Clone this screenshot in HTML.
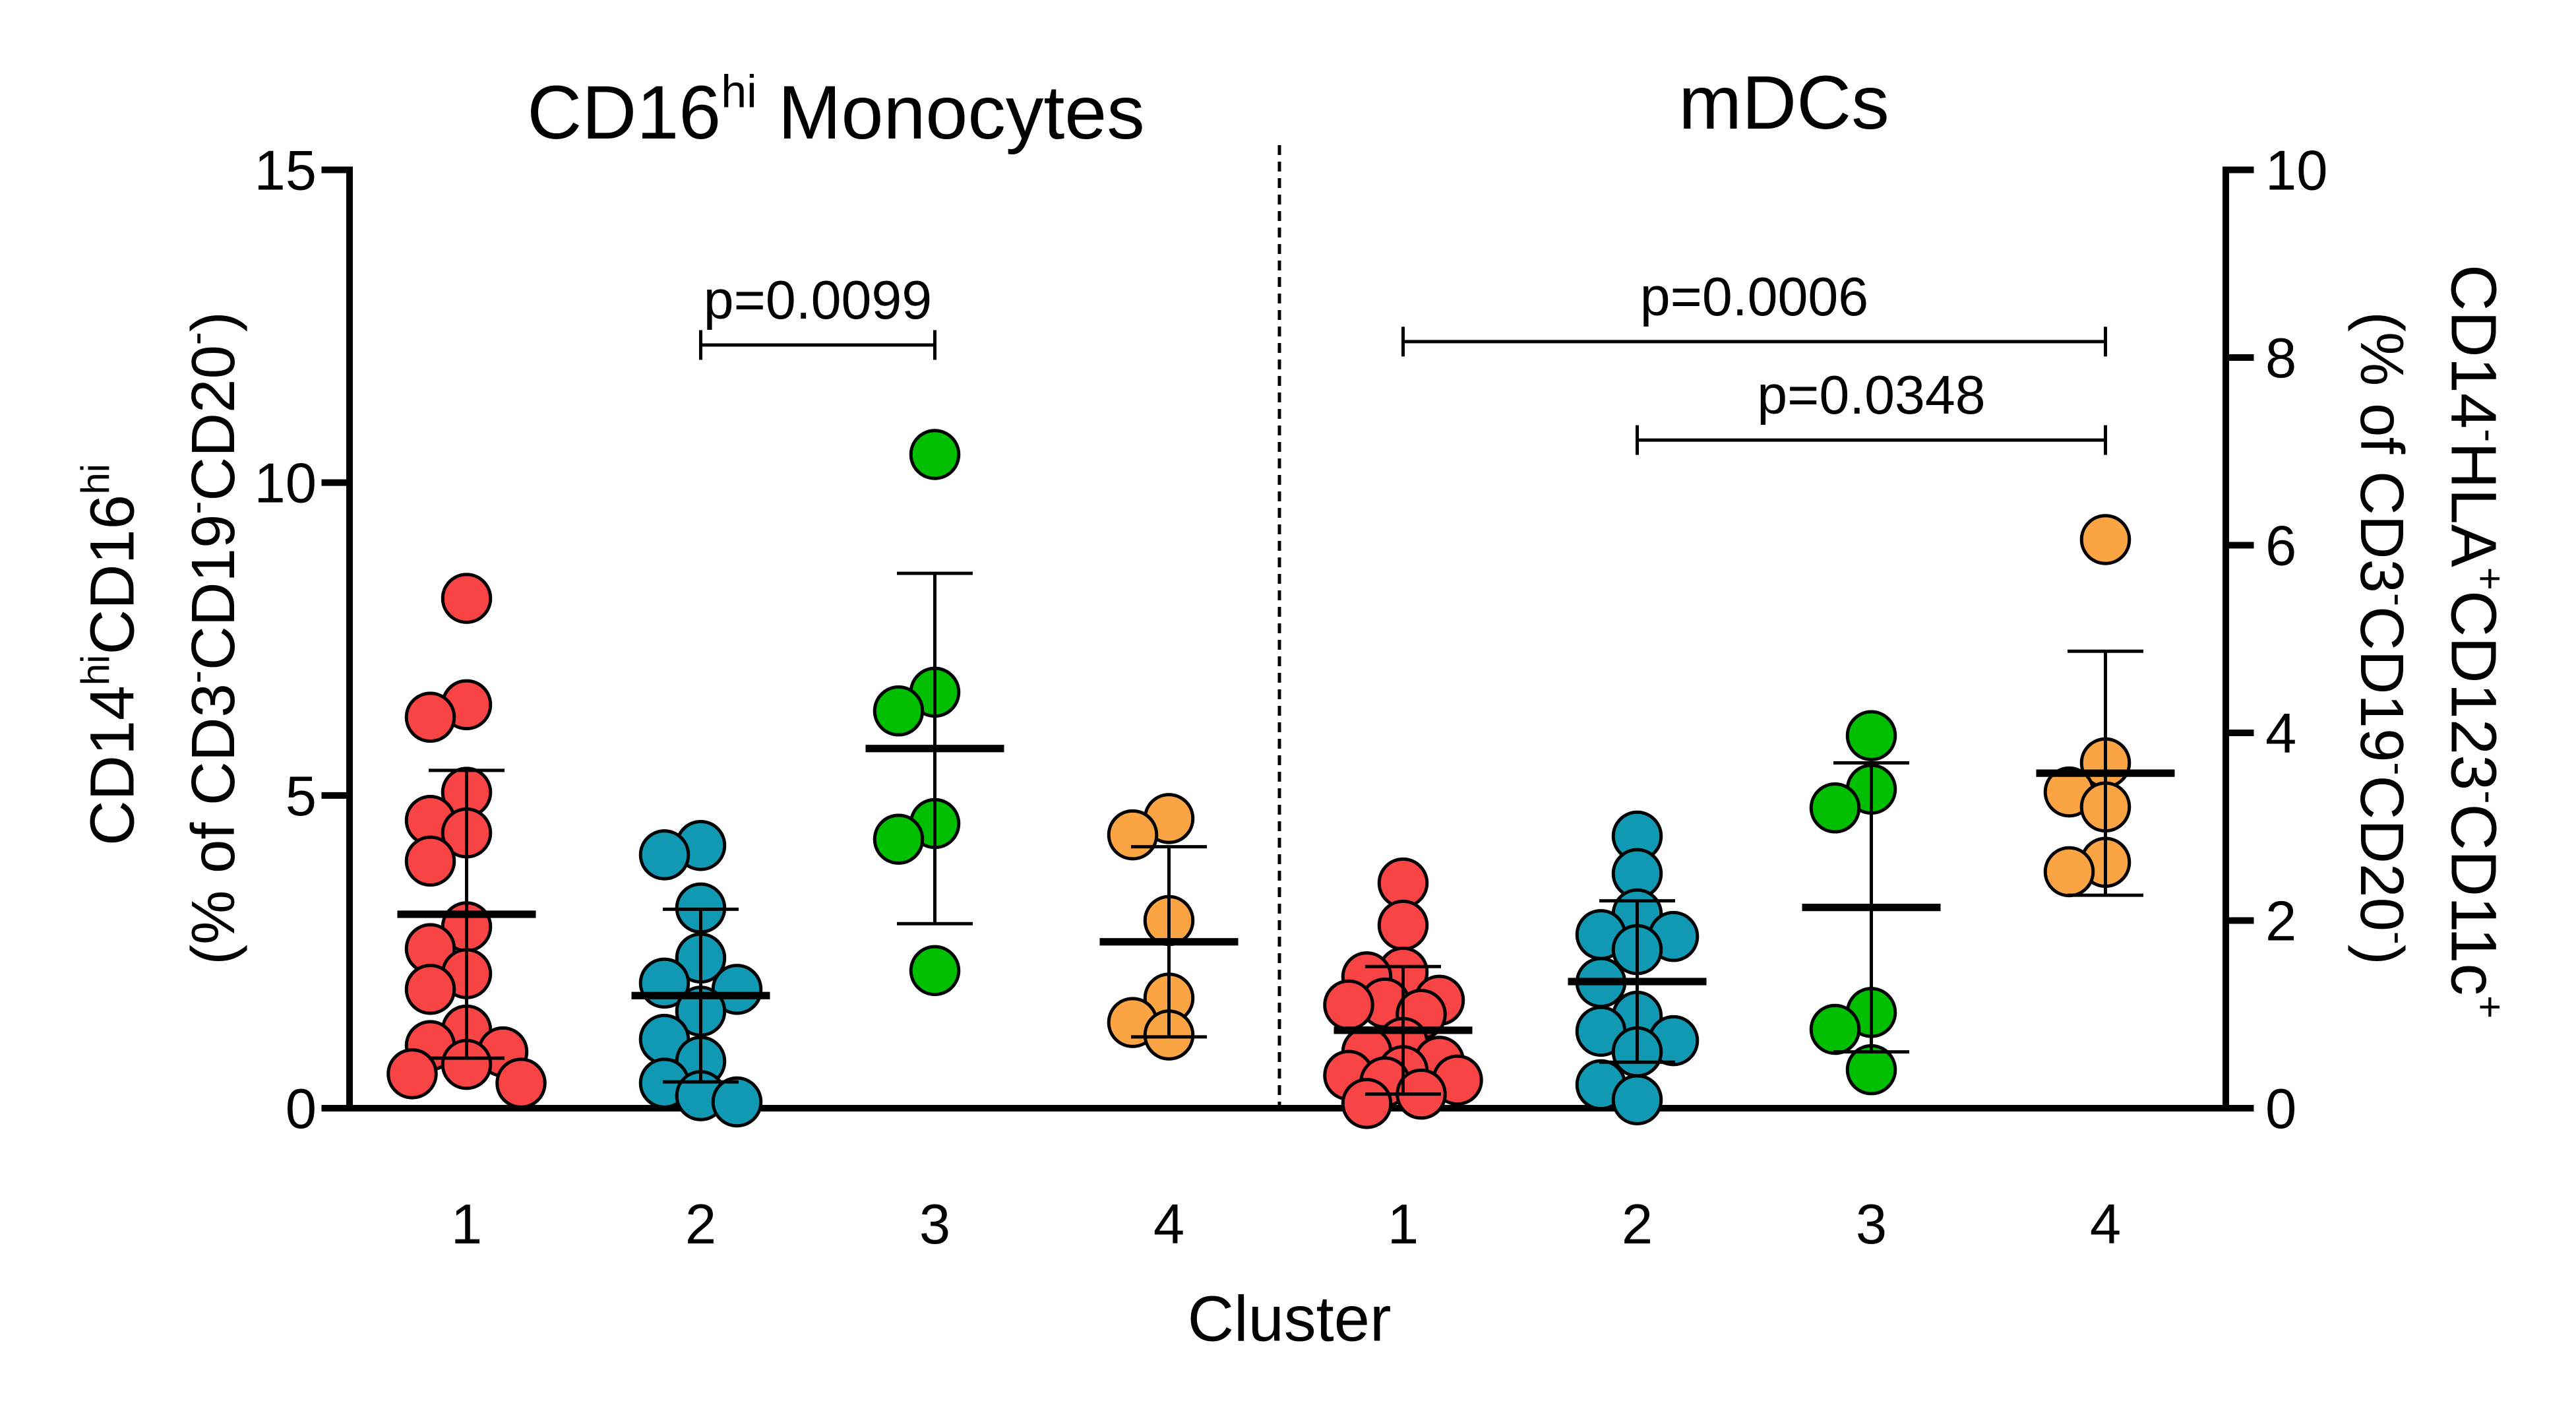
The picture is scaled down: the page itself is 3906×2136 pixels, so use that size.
<!DOCTYPE html>
<html><head><meta charset="utf-8"><style>
html,body{margin:0;padding:0;background:#fff}
svg{display:block}
text{font-family:"Liberation Sans",Arial,sans-serif;fill:#000}
</style></head><body>
<svg id="chart" width="3906" height="2136" viewBox="0 0 1562.4 854.4" xmlns="http://www.w3.org/2000/svg">
<g id="axes"></g>
<g id="marks"></g>
</svg>
<script>
const categories = ["1","2","3","4"];
const colors = ["#f94445","#1199b4","#00bf00","#fba444"];
const monoValues = [
 [8.15,6.45,6.25,5.05,4.6,4.4,3.95,2.9,2.55,2.15,1.9,1.25,1.0,0.9,0.7,0.55,0.4],
 [4.2,4.05,3.2,2.4,2.0,1.9,1.55,1.1,0.75,0.4,0.2,0.1],
 [10.45,6.65,6.35,4.55,4.3,2.2],
 [4.63,4.37,3.0,1.76,1.37,1.17]
];
const monoMean = [3.1,1.8,5.75,2.66];
const monoSd = [2.3,1.38,2.8,1.52];
const mdcValues = [
 [2.4,1.95,1.45,1.4,1.15,1.12,1.1,1.0,0.7,0.6,0.5,0.4,0.35,0.3,0.28,0.15,0.05],
 [2.9,2.5,2.07,1.85,1.83,1.69,1.34,0.98,0.82,0.72,0.6,0.25,0.09],
 [3.97,3.4,3.2,1.02,0.84,0.41],
 [6.06,3.68,3.37,3.21,2.62,2.52]
];
const mdcMean = [0.83,1.35,2.14,3.57];
const mdcSd = [0.68,0.86,1.54,1.3];
const leftTicks = [0,5,10,15];
const rightTicks = [0,2,4,6,8,10];
const pLabels = ["p=0.0099","p=0.0006","p=0.0348"];
const pPairs = [[0,1,0,2],[1,0,1,3],[1,1,1,3]];
const pLevel = [12.2,8.17,7.12];

const NS="http://www.w3.org/2000/svg";
const X0=212,X1=1350,Y0=672,Y15=103;
const yL=v=>Y0-(Y0-Y15)*v/15;
const yR=v=>Y0-(Y0-Y15)*v/10;
const xCat=(panel,i)=>283+142*(panel*4+i);
const axes=document.getElementById('axes'),marks=document.getElementById('marks');
function mk(tag,attrs,parent,txt){const e=document.createElementNS(NS,tag);for(const k in attrs)e.setAttribute(k,attrs[k]);if(txt!==undefined)e.innerHTML=txt;parent.appendChild(e);return e;}

let e;
e=mk('line',{x1:X0,y1:Y15-2,x2:X0,y2:Y0+2,stroke:'#000','stroke-width':4},axes);

e=mk('line',{x1:X1,y1:Y15-2,x2:X1,y2:Y0+2,stroke:'#000','stroke-width':4},axes);

e=mk('line',{x1:X0-2,y1:Y0,x2:X1+2,y2:Y0,stroke:'#000','stroke-width':4},axes);

e=mk('line',{x1:776,y1:88,x2:776,y2:Y0,stroke:'#000','stroke-width':2,'stroke-dasharray':'6,4'},axes);

leftTicks.forEach(t=>{
 e=mk('line',{x1:X0-17,y1:yL(t),x2:X0,y2:yL(t),stroke:'#000','stroke-width':4},axes);
 
 e=mk('text',{x:X0-20,y:yL(t)+12,'text-anchor':'end','font-size':34},axes,t);
 
});
rightTicks.forEach(t=>{
 e=mk('line',{x1:X1,y1:yR(t),x2:X1+17,y2:yR(t),stroke:'#000','stroke-width':4},axes);
 
 e=mk('text',{x:X1+24,y:yR(t)+12,'text-anchor':'start','font-size':34},axes,t);
 
});
for(let p=0;p<2;p++)categories.forEach((c,i)=>{
 e=mk('text',{x:xCat(p,i),y:754,'text-anchor':'middle','font-size':34},axes,c);
 
});
e=mk('text',{x:782,y:813,'text-anchor':'middle','font-size':39},axes,'Cluster');

e=mk('text',{x:507,y:84,'text-anchor':'middle','font-size':46},axes,'CD16<tspan font-size="28" dy="-19">hi</tspan><tspan dy="19"> Monocytes</tspan>');

e=mk('text',{x:1082,y:78,'text-anchor':'middle','font-size':46},axes,'mDCs');

const sup=(s)=>'<tspan font-size="24" dy="-15">'+s+'</tspan><tspan dy="15">';
e=mk('text',{x:0,y:0,'text-anchor':'middle','font-size':38,transform:'translate(81,397) rotate(-90)'},axes,
 'CD14'+sup('hi')+'CD16'+sup('hi')+'</tspan></tspan>');

e=mk('text',{x:0,y:0,'text-anchor':'middle','font-size':37,transform:'translate(142,387) rotate(-90)'},axes,
 '(% of CD3'+sup('-')+'CD19'+sup('-')+'CD20'+sup('-')+')</tspan></tspan></tspan>');

e=mk('text',{x:0,y:0,'text-anchor':'middle','font-size':39,transform:'translate(1487,389) rotate(90)'},axes,
 'CD14'+sup('-')+'HLA'+sup('+')+'CD123'+sup('-')+'CD11c'+sup('+')+'</tspan></tspan></tspan></tspan>');

e=mk('text',{x:0,y:0,'text-anchor':'middle','font-size':37,transform:'translate(1432,387) rotate(90)'},axes,
 '(% of CD3'+sup('-')+'CD19'+sup('-')+'CD20'+sup('-')+')</tspan></tspan></tspan>');


const R=14.5;
function drawGroup(panel,i,vals,mean,sd,yf){
 const cx=xCat(panel,i);
 const placed=[];
 const cands=[0,-22,22,-11,11,-33,33];
 const sorted=vals.slice().sort((a,b)=>b-a);
 sorted.forEach(v=>{
  const y=yf(v);let ox=0,best=-1;
  for(const c of cands){
   const md=placed.length?Math.min(...placed.map(q=>Math.hypot(q[0]-c,q[1]-y))):999;
   if(md>=20){ox=c;best=-2;break;}
   if(md>best){best=md;ox=c;}
  }
  placed.push([ox,y]);
  const d=mk('circle',{cx:cx+ox,cy:y,r:R,fill:colors[i],stroke:'#000','stroke-width':2},marks);
  
  
 });
 const top=yf(mean+sd),bot=yf(Math.max(0,mean-sd));
 let l=mk('line',{x1:cx,y1:top,x2:cx,y2:bot,stroke:'#000','stroke-width':2},marks);
 
 [top,bot].forEach(yy=>{l=mk('line',{x1:cx-23,y1:yy,x2:cx+23,y2:yy,stroke:'#000','stroke-width':2},marks);
  });
 l=mk('line',{x1:cx-42,y1:yf(mean),x2:cx+42,y2:yf(mean),stroke:'#000','stroke-width':4.5},marks);
 
}
categories.forEach((c,i)=>drawGroup(0,i,monoValues[i],monoMean[i],monoSd[i],yL));
categories.forEach((c,i)=>drawGroup(1,i,mdcValues[i],mdcMean[i],mdcSd[i],yR));

pLabels.forEach((lab,k)=>{
 const [pa,a,pb,b]=pPairs[k];
 const yf=pa===0?yL:yR;const y=yf(pLevel[k]);
 const xa=xCat(pa,a),xb=xCat(pb,b);
 let l=mk('path',{d:`M${xa},${y-9}V${y+9}M${xa},${y}H${xb}M${xb},${y-9}V${y+9}`,stroke:'#000','stroke-width':2,fill:'none'},marks);
 
 l=mk('text',{x:(xa+xb)/2,y:y-16,'text-anchor':'middle','font-size':33},marks,lab);
 
});
</script>
</body></html>
